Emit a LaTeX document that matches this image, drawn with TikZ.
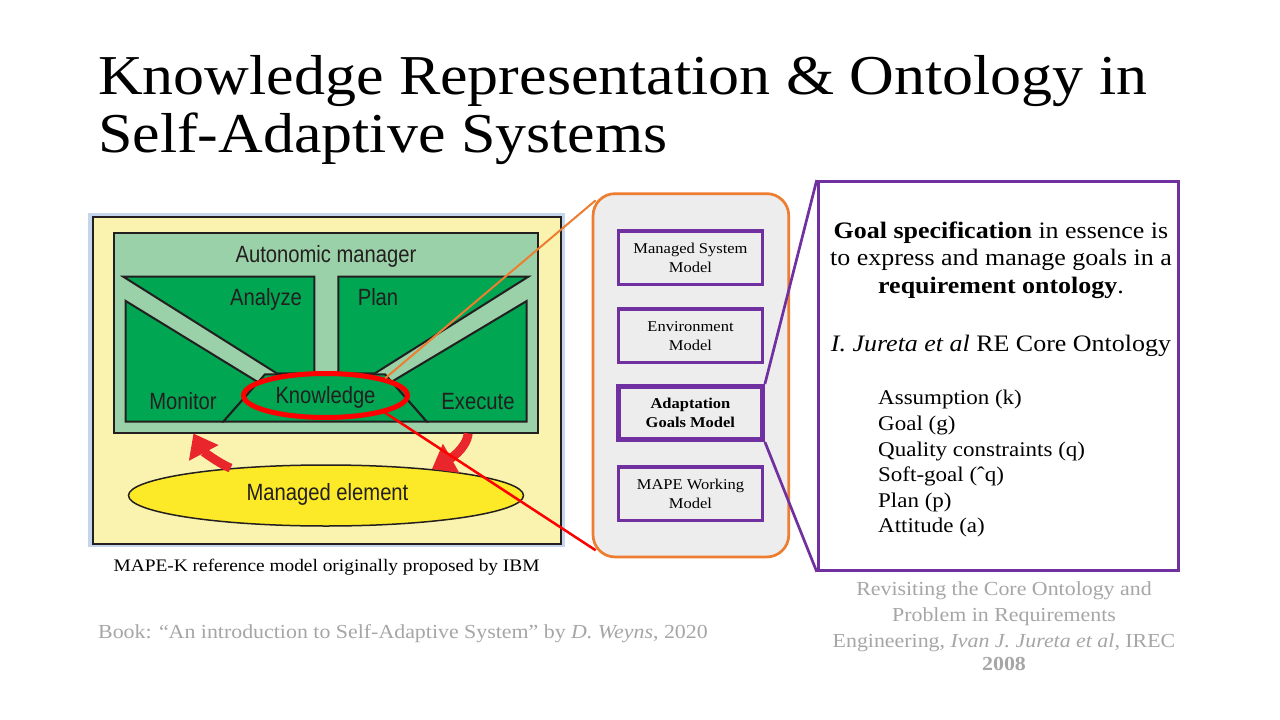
\documentclass[tikz,border=0pt]{standalone}
\usepackage{fontspec}
\setmainfont[FakeStretch=1.1]{Liberation Serif}
\newfontfamily\mapefont[FakeStretch=0.86]{Liberation Sans}
\usetikzlibrary{arrows.meta,shapes.geometric,calc}

\definecolor{paleyellow}{RGB}{250,243,176}
\definecolor{frameblue}{RGB}{197,214,236}
\definecolor{lightgreen}{RGB}{155,209,168}
\definecolor{darkgreen}{RGB}{0,166,81}
\definecolor{elemyellow}{RGB}{252,234,40}
\definecolor{arrowred}{RGB}{232,38,43}
\definecolor{mapeink}{RGB}{35,31,32}
\definecolor{orangeline}{RGB}{237,125,49}
\definecolor{purp}{RGB}{112,48,160}
\definecolor{panelgrey}{RGB}{237,237,237}
\definecolor{citegrey}{RGB}{166,166,166}

\begin{document}
\begin{tikzpicture}[x=1pt,y=-1pt,
  outline/.style={draw=mapeink, line width=2pt, line join=miter},
  zone/.style={outline, fill=darkgreen},
  mapetext/.style={font=\mapefont\fontsize{23.5}{26}\selectfont, text=mapeink, inner sep=0pt, anchor=base},
  redarrow/.style={draw=arrowred, line width=9pt, -{Triangle[length=22pt,width=32pt]}},
  modelbox/.style={draw=purp, line width=3.3pt, minimum width=144pt, minimum height=53.5pt,
    inner sep=0pt, align=center, font=\fontsize{15}{19}\selectfont},
  titletext/.style={font=\fontsize{56.3}{66}\selectfont, inner sep=0pt, anchor=base west},
  spectext/.style={font=\fontsize{23.6}{27.5}\selectfont, inner sep=0pt, anchor=base},
  listtext/.style={font=\fontsize{20.9}{25}\selectfont, inner sep=0pt, anchor=base west},
  citetext/.style={font=\fontsize{19.9}{22}\selectfont, text=citegrey, inner sep=0pt, anchor=base}
]
\useasboundingbox (0,0) rectangle (1280,720);
\fill[white] (0,0) rectangle (1280,720);

% Title
\node[titletext] (title1) at (98,94.5) {Knowledge Representation \& Ontology in};
\node[titletext] (title2) at (98,152.7) {Self-Adaptive Systems};

% MAPE-K loop
\fill[frameblue] (88,213) rectangle (565,547);
\draw[outline, fill=paleyellow] (92.5,217) rectangle (560.5,543.5);
\node[outline, fill=lightgreen, minimum width=424pt, minimum height=200pt, inner sep=0pt]
  (am) at (325.5,332.5) {};
\node[mapetext] (amlabel) at (326,262.3) {Autonomic manager};

\draw[zone] (123.3,276.7) -- (314.3,276.7) -- (314.3,373.3) -- (276.7,373.3) -- cycle;
\draw[zone] (338.3,276.7) -- (528.3,276.7) -- (375,373.3) -- (338.3,373.3) -- cycle;
\draw[zone] (125.7,301) -- (125.7,421.7) -- (223.3,421.7) -- (258.3,382.3) -- cycle;
\draw[zone] (526.7,301) -- (526.7,421.7) -- (426.7,421.7) -- (391.7,381.7) -- cycle;
\draw[zone] (223.3,421.7) -- (265,374.3) -- (385,374.3) -- (426.7,421.7) -- cycle;

\node[mapetext] (analyze) at (266,305) {Analyze};
\node[mapetext] (plan) at (378,305) {Plan};
\node[mapetext] (monitor) at (183,409) {Monitor};
\node[mapetext] (execute) at (478,409) {Execute};
\node[mapetext] (knowledge) at (325.5,403.3) {Knowledge};

\node[ellipse, draw=red, line width=5pt, minimum width=164pt, minimum height=44pt, inner sep=0pt]
  (kring) at (325.5,395.5) {};

\node[ellipse, outline, line width=1.5pt, fill=elemyellow, minimum width=395pt, minimum height=61pt, inner sep=0pt]
  (melem) at (326,495.5) {};
\node[mapetext] (melabel) at (327.5,500) {Managed element};

\coordinate (monitorIn) at ($(am.south west)!0.19!(am.south east)$);
\coordinate (executeOut) at ($(am.south west)!0.835!(am.south east)$);
\draw[redarrow] (melem.164) .. controls +(-14,-6) and +(9,17) .. (monitorIn);
\draw[redarrow] (executeOut) .. controls +(-2,16) and +(16,-9) .. (melem.14);

\node[font=\fontsize{17.6}{20}\selectfont, inner sep=0pt, anchor=base west] (caption) at (113.5,571.7)
  {MAPE-K reference model originally proposed by IBM};
\node[font=\fontsize{19.9}{22}\selectfont, text=citegrey, inner sep=0pt, anchor=base west] (book) at (98,638.3)
  {Book: “An introduction to Self-Adaptive System” by \textit{D. Weyns}, 2020};

% Knowledge models panel
\node[draw=orangeline, fill=panelgrey, line width=2.7pt, rounded corners=22pt,
  minimum width=195.7pt, minimum height=363.3pt, inner sep=0pt] (store) at (690.9,375.3) {};
\node[modelbox] (msm) at (690.5,257.7) {Managed System\\Model};
\node[modelbox] (env) at (690.5,335.8) {Environment\\Model};
\node[modelbox, line width=5pt, minimum width=144pt, minimum height=53pt,
  font=\fontsize{15}{19}\selectfont\bfseries] (goals) at (690.4,413) {Adaptation\\Goals Model};
\node[modelbox] (mwm) at (690.5,493.7) {MAPE Working\\Model};

\coordinate (storeTL) at ($(store.north west)+(4,8)$);
\coordinate (storeBL) at ($(store.south west)+(4,-8)$);
\draw[orangeline, line width=2pt] (kring.north east) -- (storeTL);
\draw[red, line width=2.5pt] (kring.south east) -- (storeBL);

% Goal specification panel
\node[draw=purp, fill=white, line width=3pt, minimum width=360.3pt, minimum height=388.7pt, inner sep=0pt]
  (spec) at (998.4,375.9) {};
\draw[purp, line width=2.7pt] (goals.north east) -- (spec.north west);
\draw[purp, line width=2.7pt] (goals.south east) -- (spec.south west);

\node[spectext] (s1) at (1001,238.3) {\textbf{Goal specification} in essence is};
\node[spectext] (s2) at (1001,265.8) {to express and manage goals in a};
\node[spectext] (s3) at (1001,293.3) {\textbf{requirement ontology}.};
\node[spectext] (s4) at (1001,351.7) {\textit{I. Jureta et al} RE Core Ontology};

\node[listtext] (l1) at (878,404.3) {Assumption (k)};
\node[listtext] (l2) at (878,430.3) {Goal (g)};
\node[listtext] (l3) at (878,456.3) {Quality constraints (q)};
\node[listtext] (l4) at (878,481.7) {Soft-goal (ˆq)};
\node[listtext] (l5) at (878,507.5) {Plan (p)};
\node[listtext] (l6) at (878,532.7) {Attitude (a)};

\node[citetext] (c1) at (1004,595.5) {Revisiting the Core Ontology and};
\node[citetext] (c2) at (1004,621.5) {Problem in Requirements};
\node[citetext] (c3) at (1004,647.5) {Engineering, \textit{Ivan J. Jureta et al}, IREC};
\node[citetext] (c4) at (1004,670) {\textbf{2008}};
\end{tikzpicture}
\end{document}
